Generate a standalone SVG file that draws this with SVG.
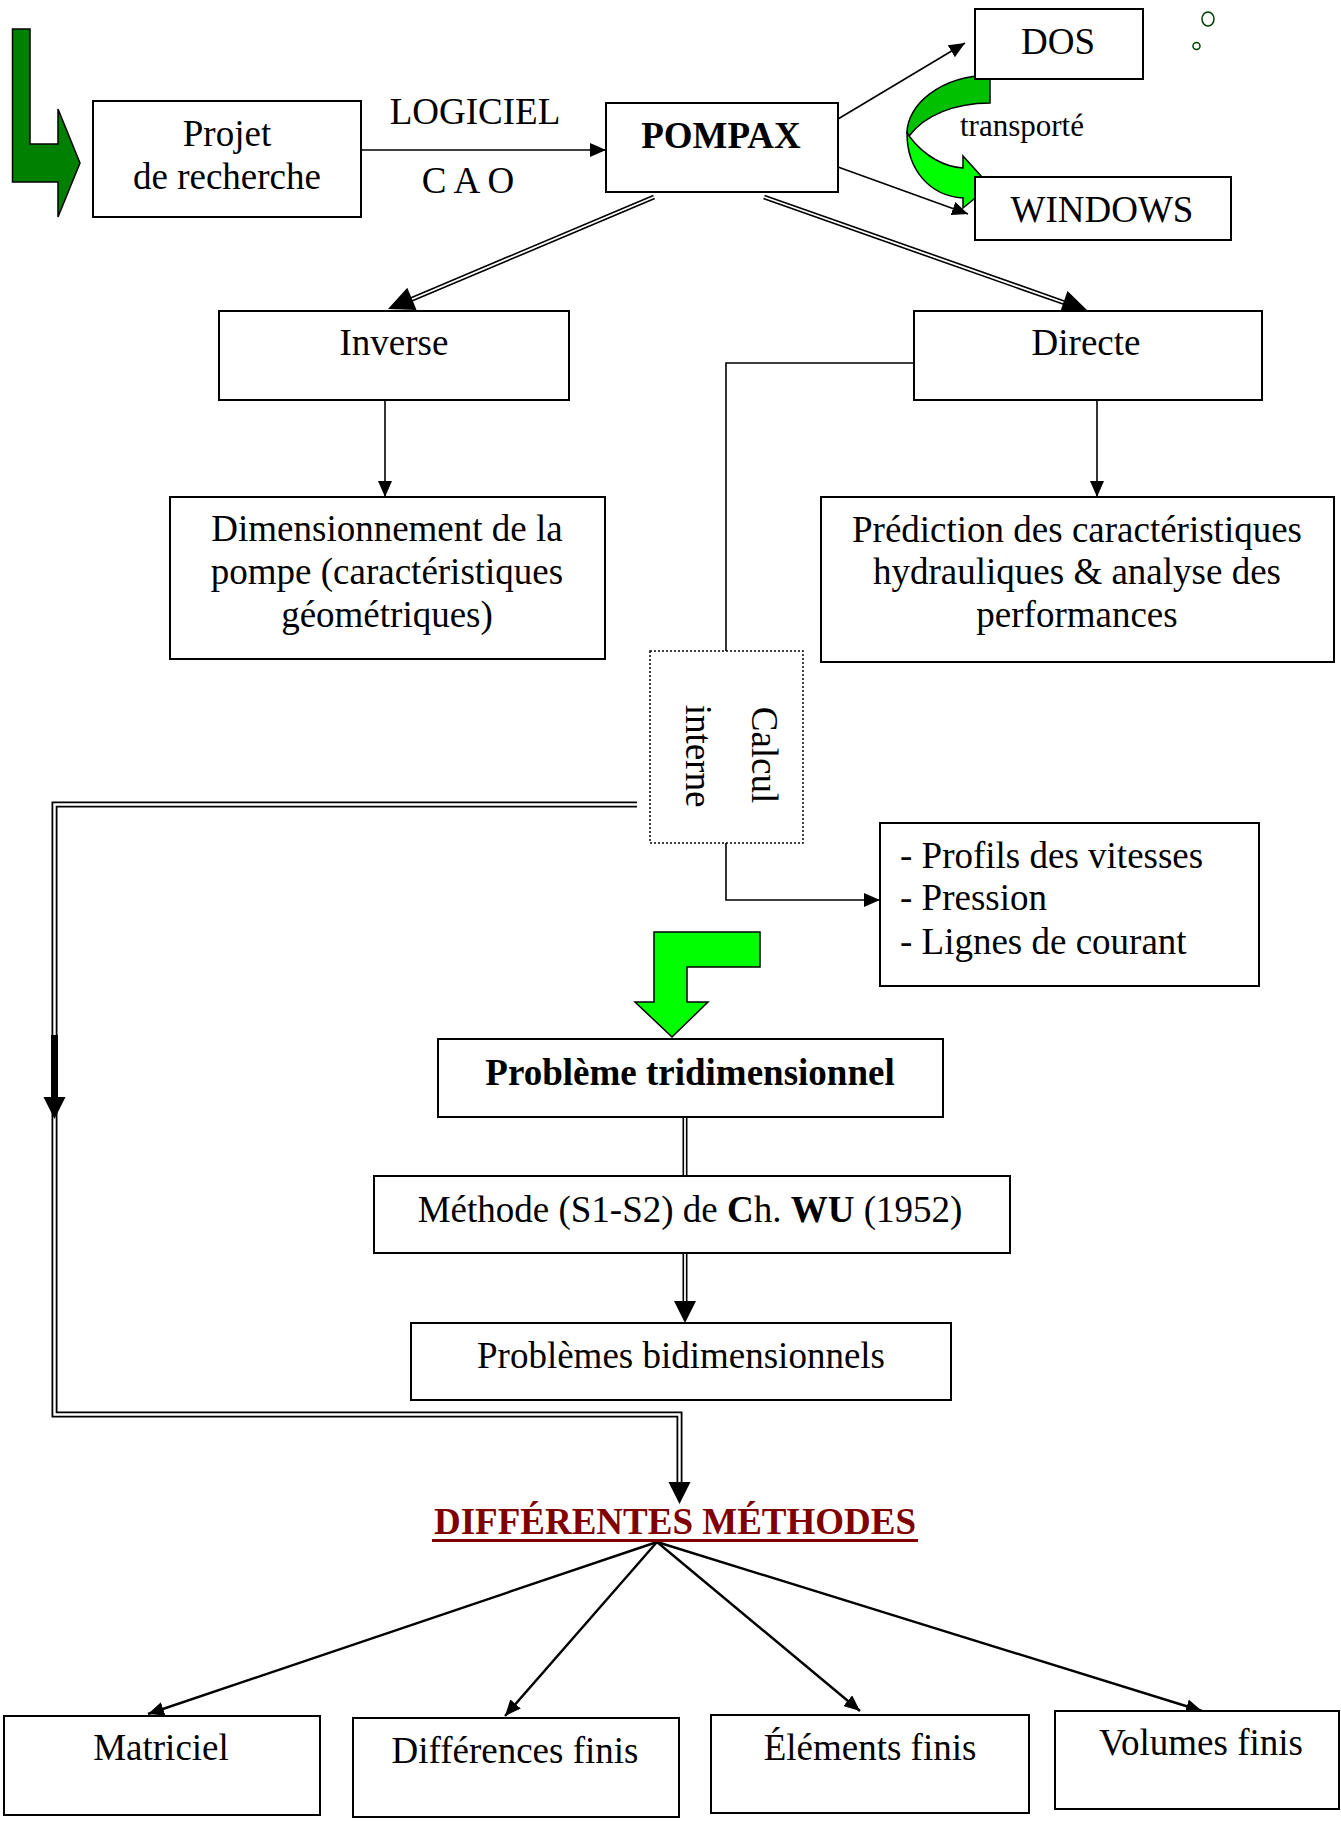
<svg xmlns="http://www.w3.org/2000/svg" width="1341" height="1821" viewBox="0 0 1341 1821">
  <style>
    .box { fill: #fff; stroke: #000; stroke-width: 2; }
    .dotbox { fill: #fff; stroke: #000; stroke-width: 1.5; stroke-dasharray: 2 2; }
    .t { font-family: "Liberation Serif", "Times New Roman", serif; font-size: 37px; fill: #000; }
    .b { font-weight: bold; }
    .mid { text-anchor: middle; }
    .thin { fill: none; stroke: #000; stroke-width: 1.6; }
    .fan { fill: none; stroke: #000; stroke-width: 2.4; }
    .dbl { fill: none; stroke: #000; stroke-width: 6; stroke-linejoin: miter; }
    .dbl-in { fill: none; stroke: #fff; stroke-width: 2.4; stroke-linejoin: miter; }
    .head { fill: #000; stroke: none; }
  </style>
  <defs>
    <marker id="arr" markerUnits="userSpaceOnUse" markerWidth="16" markerHeight="14" refX="16" refY="7" orient="auto">
      <path d="M0,0 L16,7 L0,14 Z" fill="#000"/>
    </marker>
  </defs>

  <rect width="1341" height="1821" fill="#fff"/>

  <!-- decorative arrows and bubbles -->
  <g id="deco">
    <polygon points="12.5,29 30,29 30,144 58,144 58,109 80,163 58,217 58,182 12.5,182" fill="#008000" stroke="#000" stroke-width="1.5"/>
    <path d="M990,75 L990,103 C955,103 925,115 909,136 L907,133 C907,105 940,76 990,75 Z" fill="#00c000" stroke="#000" stroke-width="1.5"/>
    <path d="M909,136 C925,157 945,167 963,168 L963,156 L990,186 L963,208 L963,198 C930,196 907,170 907,133 Z" fill="#00ff00" stroke="#000" stroke-width="1.5"/>
    <polygon points="654,932 760,932 760,967 687,967 687,1002 708,1002 672,1037 635,1002 654,1002" fill="#00ff00" stroke="#000" stroke-width="1.5"/>
    <ellipse cx="1208" cy="19" rx="6" ry="7" fill="#fff" stroke="#004000" stroke-width="1.5"/>
    <circle cx="1196.5" cy="46" r="3.5" fill="#fff" stroke="#004000" stroke-width="1.5"/>
  </g>

  <!-- connectors -->
  <g id="connectors">
    <path class="thin" d="M361,150 H606" marker-end="url(#arr)"/>
    <path class="thin" d="M838,119 L965,43" marker-end="url(#arr)"/>
    <path class="thin" d="M838,167 L968,214" marker-end="url(#arr)"/>
    <path class="thin" d="M385,400 V497" marker-end="url(#arr)"/>
    <path class="thin" d="M1097,400 V497" marker-end="url(#arr)"/>
    <path class="thin" d="M917,363 H726 V651"/>
    <path class="thin" d="M726,843 V900 H880" marker-end="url(#arr)"/>

    <!-- double lines from POMPAX -->
    <path class="dbl" style="stroke-width:5" d="M654,197 L410,300"/>
    <path class="dbl-in" style="stroke-width:1.8" d="M654,197 L410,300"/>
    <polygon class="head" points="388,309 416.6,310 407.3,287.8"/>
    <path class="dbl" style="stroke-width:5" d="M764,197 L1065,303"/>
    <path class="dbl-in" style="stroke-width:1.8" d="M764,197 L1065,303"/>
    <polygon class="head" points="1088,311 1059.5,313.7 1067.5,291.1"/>

    <!-- loop from "Calcul interne" down to the methods -->
    <path class="dbl" d="M637,804.5 H54.5 V1414.5 H679.5 V1484"/>
    <path class="dbl-in" d="M637,804.5 H54.5 V1414.5 H679.5 V1484"/>
    <rect x="51" y="1035" width="7" height="66" fill="#000"/>
    <polygon class="head" points="43.5,1097 65.5,1097 54.5,1119"/>
    <polygon class="head" points="668.5,1482 690.5,1482 679.5,1504"/>

    <!-- central chain -->
    <path class="dbl" style="stroke-width:5" d="M685,1107 V1176"/>
    <path class="dbl-in" style="stroke-width:1.8" d="M685,1107 V1176"/>
    <path class="dbl" style="stroke-width:5" d="M685,1253 V1303"/>
    <path class="dbl-in" style="stroke-width:1.8" d="M685,1253 V1303"/>
    <polygon class="head" points="674,1301 696,1301 685,1323"/>

    <!-- fan to the four methods -->
    <path class="fan" d="M657,1542 L148,1714" marker-end="url(#arr)"/>
    <path class="fan" d="M657,1542 L505,1716" marker-end="url(#arr)"/>
    <path class="fan" d="M657,1542 L860,1711" marker-end="url(#arr)"/>
    <path class="fan" d="M657,1542 L1202,1711" marker-end="url(#arr)"/>
  </g>

  <!-- nodes -->
  <g id="projet">
    <rect class="box" x="93" y="101" width="268" height="116"/>
    <text class="t mid" x="227" y="146">Projet</text>
    <text class="t mid" x="227" y="189">de recherche</text>
  </g>
  <g id="label-cao">
    <text class="t mid" x="475" y="124">LOGICIEL</text>
    <text class="t mid" x="468" y="193">C A O</text>
  </g>
  <g id="pompax">
    <rect class="box" x="606" y="103" width="232" height="89"/>
    <text class="t b mid" x="721" y="148">POMPAX</text>
  </g>
  <g id="dos">
    <rect class="box" x="975" y="9" width="168" height="70"/>
    <text class="t mid" x="1058" y="54">DOS</text>
  </g>
  <g id="windows">
    <rect class="box" x="975" y="177" width="256" height="63"/>
    <text class="t mid" x="1102" y="222">WINDOWS</text>
  </g>
  <g id="label-transporte">
    <text class="t" style="font-size:31px" x="960" y="136">transporté</text>
  </g>
  <g id="inverse">
    <rect class="box" x="219" y="311" width="350" height="89"/>
    <text class="t mid" x="394" y="355">Inverse</text>
  </g>
  <g id="directe">
    <rect class="box" x="914" y="311" width="348" height="89"/>
    <text class="t mid" x="1086" y="355">Directe</text>
  </g>
  <g id="dimensionnement">
    <rect class="box" x="170" y="497" width="435" height="162"/>
    <text class="t mid" x="387" y="541">Dimensionnement de la</text>
    <text class="t mid" x="387" y="584">pompe (caractéristiques</text>
    <text class="t mid" x="387" y="627">géométriques)</text>
  </g>
  <g id="prediction">
    <rect class="box" x="821" y="497" width="513" height="165"/>
    <text class="t mid" x="1077" y="542">Prédiction des caractéristiques</text>
    <text class="t mid" x="1077" y="584">hydrauliques &amp; analyse des</text>
    <text class="t mid" x="1077" y="627">performances</text>
  </g>
  <g id="calcul-interne">
    <rect class="dotbox" x="650" y="651" width="153" height="192"/>
    <text class="t mid" transform="translate(752,755) rotate(90)" x="0" y="0">Calcul</text>
    <text class="t mid" transform="translate(686,756) rotate(90)" x="0" y="0">interne</text>
  </g>
  <g id="resultats">
    <rect class="box" x="880" y="823" width="379" height="163"/>
    <text class="t" x="900" y="868">- Profils des vitesses</text>
    <text class="t" x="900" y="910">- Pression</text>
    <text class="t" x="900" y="954">- Lignes de courant</text>
  </g>
  <g id="tridimensionnel">
    <rect class="box" x="438" y="1039" width="505" height="78"/>
    <text class="t b mid" x="690" y="1085">Problème tridimensionnel</text>
  </g>
  <g id="methode-wu">
    <rect class="box" x="374" y="1176" width="636" height="77"/>
    <text class="t mid" x="690" y="1222">Méthode (S1-S2) de <tspan class="b">C</tspan>h. <tspan class="b">WU</tspan> (1952)</text>
  </g>
  <g id="bidimensionnels">
    <rect class="box" x="411" y="1323" width="540" height="77"/>
    <text class="t mid" x="681" y="1368">Problèmes bidimensionnels</text>
  </g>
  <g id="methodes">
    <text class="t b mid" style="fill:#800000" x="675" y="1534">DIFFÉRENTES MÉTHODES</text>
    <rect x="432" y="1539" width="486" height="3" fill="#800000"/>
  </g>
  <g id="matriciel">
    <rect class="box" x="4" y="1716" width="316" height="99"/>
    <text class="t mid" x="161" y="1760">Matriciel</text>
  </g>
  <g id="differences-finis">
    <rect class="box" x="353" y="1718" width="326" height="99"/>
    <text class="t mid" x="515" y="1763">Différences finis</text>
  </g>
  <g id="elements-finis">
    <rect class="box" x="711" y="1715" width="318" height="98"/>
    <text class="t mid" x="870" y="1760">Éléments finis</text>
  </g>
  <g id="volumes-finis">
    <rect class="box" x="1055" y="1711" width="284" height="98"/>
    <text class="t mid" x="1201" y="1755">Volumes finis</text>
  </g>
</svg>
